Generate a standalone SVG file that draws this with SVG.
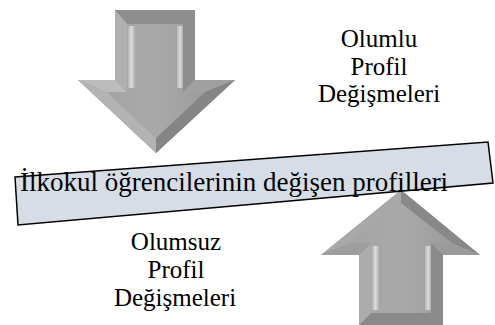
<svg xmlns="http://www.w3.org/2000/svg" width="495" height="325" viewBox="0 0 495 325">
<defs>
<linearGradient id="face" x1="0" y1="0" x2="1" y2="0">
<stop offset="0" stop-color="#a4a4a4"/><stop offset="0.5" stop-color="#a9a9a9"/><stop offset="1" stop-color="#9c9c9c"/>
</linearGradient>
<linearGradient id="hl" x1="0" y1="0" x2="1" y2="0">
<stop offset="0" stop-color="#b4b4b4"/><stop offset="0.5" stop-color="#dcdcdc"/><stop offset="1" stop-color="#b0b0b0"/>
</linearGradient>
</defs>
<g id="downArrow">
<polygon points="115,10 195,10 195,80 235,80 156,153 78,80 115,80" fill="#9a9a9a"/>
<polygon points="115,10 195,10 183,24 127,24" fill="#8e8e8e"/>
<polygon points="115,10 127,24 127,92 115,80" fill="#b0b0b0"/>
<polygon points="195,10 195,80 183,92 183,24" fill="#8e8e8e"/>
<polygon points="115,80 78,80 107,92 127,92" fill="#bcbcbc"/>
<polygon points="195,80 235,80 205,92 183,92" fill="#a0a0a0"/>
<polygon points="78,80 156,153 156,138 107,92" fill="#b3b3b3"/>
<polygon points="235,80 156,153 156,138 205,92" fill="#858585"/>
<polygon points="127,24 183,24 183,92 205,92 156,138 107,92 127,92" fill="url(#face)"/>
<rect x="128" y="26" width="7" height="62" fill="url(#hl)"/>
<rect x="177" y="26" width="6" height="62" fill="url(#hl)"/>
</g>
<g id="upArrow">
<polygon points="359,325 359,255 321,255 401,190 480,255 443,255 443,325" fill="#959595"/>
<polygon points="359,325 371,313 431,313 443,325" fill="#8a8a8a"/>
<polygon points="359,325 359,255 371,243 371,313" fill="#acacac"/>
<polygon points="443,325 443,255 431,243 431,313" fill="#8a8a8a"/>
<polygon points="321,255 401,190 401,203 350,243" fill="#a8a8a8"/>
<polygon points="480,255 401,190 401,203 452,243" fill="#888888"/>
<polygon points="321,255 359,255 371,243 350,243" fill="#9e9e9e"/>
<polygon points="480,255 443,255 431,243 452,243" fill="#9a9a9a"/>
<polygon points="371,313 371,243 350,243 401,203 452,243 431,243 431,313" fill="url(#face)"/>
<rect x="372" y="246" width="7" height="64" fill="url(#hl)"/>
<rect x="425" y="246" width="6" height="64" fill="url(#hl)"/>
</g>
<g id="banner">
<polygon points="15,177 488,142 493,183 18,225" fill="#d6dde6" stroke="#000" stroke-width="1.5"/>
<text x="20" y="191" style="font-family:'Liberation Serif','Times New Roman',serif;font-size:27px" fill="#000">İlkokul öğrencilerinin değişen profilleri</text>
</g>
<g id="olumlu" style="font-family:'Liberation Serif','Times New Roman',serif;font-size:25px" text-anchor="middle" fill="#000">
<text x="379" y="47">Olumlu</text>
<text x="379" y="75">Profil</text>
<text x="379" y="102">Değişmeleri</text>
</g>
<g id="olumsuz" style="font-family:'Liberation Serif','Times New Roman',serif;font-size:25px" text-anchor="middle" fill="#000">
<text x="176" y="250">Olumsuz</text>
<text x="176" y="278">Profil</text>
<text x="175" y="306">Değişmeleri</text>
</g>
<g id="connectors"/>
</svg>
